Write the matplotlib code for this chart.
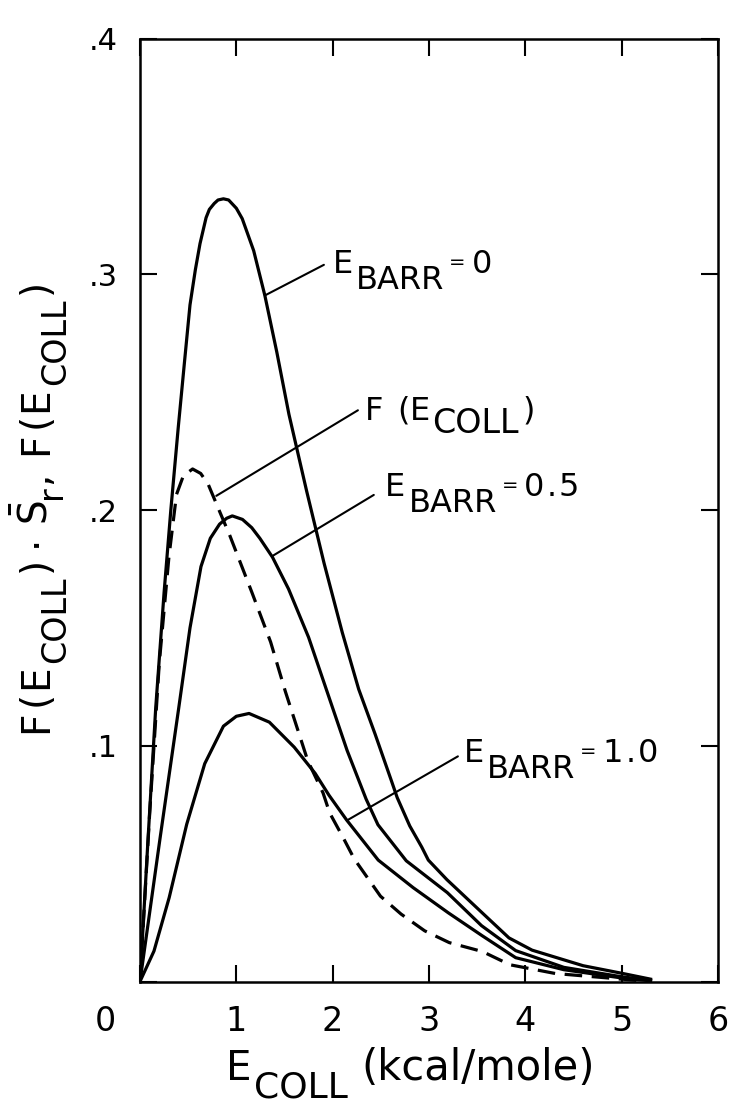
import matplotlib
matplotlib.use("Agg")
import matplotlib.pyplot as plt
from matplotlib.transforms import IdentityTransform

# curves (E_COLL in kcal/mole)
e0_x = [0, 0.08, 0.163, 0.25, 0.32, 0.397, 0.46, 0.519, 0.575, 0.623, 0.686, 0.72, 0.77, 0.81,
        0.866, 0.92, 1.0, 1.061, 1.18, 1.296, 1.42, 1.546, 1.73, 1.911, 2.10, 2.27, 2.44, 2.611,
        2.67, 2.80, 2.925, 2.993, 3.186, 3.54, 3.83, 4.07, 4.60, 5.0, 5.30]
e0_y = [0, 0.058, 0.116, 0.165, 0.200, 0.235, 0.262, 0.287, 0.302, 0.313, 0.324, 0.3275, 0.330, 0.3315,
        0.332, 0.3315, 0.328, 0.3236, 0.310, 0.291, 0.267, 0.2406, 0.208, 0.1774, 0.148, 0.124, 0.105, 0.085,
        0.078, 0.066, 0.057, 0.0515, 0.0432, 0.0296, 0.0185, 0.0133, 0.0067, 0.0035, 0.0010]

e05_x = [0, 0.209, 0.402, 0.519, 0.633, 0.73, 0.826, 0.9, 0.958, 1.064, 1.16, 1.244, 1.375, 1.542,
         1.75, 1.95, 2.15, 2.347, 2.47, 2.764, 3.19, 3.545, 3.90, 4.4, 5.0, 5.3]
e05_y = [0, 0.061, 0.116, 0.150, 0.176, 0.188, 0.194, 0.1965, 0.1975, 0.1960, 0.1925, 0.1880, 0.1800, 0.1665,
         0.146, 0.122, 0.098, 0.0774, 0.0665, 0.0512, 0.0377, 0.0237, 0.0131, 0.006, 0.002, 0.0005]

e1_x = [0, 0.145, 0.303, 0.485, 0.672, 0.866, 1.0, 1.132, 1.343, 1.601, 1.818, 1.962, 2.145,
        2.473, 2.836, 3.198, 3.549, 3.90, 4.4, 5.0, 5.3]
e1_y = [0, 0.0129, 0.0356, 0.0667, 0.0924, 0.1083, 0.1125, 0.1137, 0.110, 0.0994, 0.0883, 0.0790, 0.0685,
        0.0515, 0.0398, 0.0292, 0.0195, 0.0101, 0.005, 0.0015, 0.0003]

f_x = [0, 0.10, 0.20, 0.30, 0.379, 0.45, 0.546, 0.63, 0.707, 0.82, 0.934, 1.162, 1.356, 1.509,
       1.741, 1.90, 1.969, 2.109, 2.224, 2.496, 2.71, 2.955, 3.21, 3.555, 3.84, 4.31, 5.0, 5.3]
f_y = [0, 0.071, 0.135, 0.180, 0.2066, 0.2145, 0.2174, 0.2155, 0.211, 0.200, 0.189, 0.165, 0.144, 0.123,
       0.0937, 0.080, 0.0715, 0.061, 0.052, 0.0362, 0.0286, 0.0215, 0.0165, 0.0127, 0.0071, 0.0034, 0.001, 0.0]

x_ticks = [0, 1, 2, 3, 4, 5, 6]
x_labels = ["", "1", "2", "3", "4", "5", "6"]
y_ticks = [0, 0.1, 0.2, 0.3, 0.4]
y_labels = ["", ".1", ".2", ".3", ".4"]

W, H = 736, 1103
fig = plt.figure(figsize=(W / 100, H / 100), dpi=100)
ax = fig.add_axes([140 / W, 1 - 981.5 / H, 578 / W, 943 / H])

lw = 2.3
ax.plot(e0_x, e0_y, color="k", lw=lw, solid_joinstyle="round")
ax.plot(e05_x, e05_y, color="k", lw=lw, solid_joinstyle="round")
ax.plot(e1_x, e1_y, color="k", lw=lw, solid_joinstyle="round")
ax.plot(f_x, f_y, color="k", lw=lw, dashes=(5.5, 3))

ax.set_xlim(0, 6)
ax.set_ylim(0, 0.4)
ax.set_xticks(x_ticks)
ax.set_xticklabels(x_labels)
ax.set_yticks(y_ticks)
ax.set_yticklabels(y_labels)
ax.tick_params(direction="in", length=12, width=1.5, top=True, right=True)
ax.tick_params(axis="x", pad=17, labelsize=24)
ax.tick_params(axis="y", pad=16, labelsize=22)
for s in ax.spines.values():
    s.set_linewidth(1.8)

# the shared "0" in the corner sits left of the axis
ax.annotate("0", xy=(-0.36, 0), xytext=(0, -17), textcoords="offset points",
            ha="center", va="top", fontsize=24, annotation_clip=False)

renderer = fig.canvas.get_renderer()


def rich(xy, pieces, rot=0, data=True):
    # draw text pieces one after another, with lowered / raised parts
    if data:
        x0, y0 = ax.transData.transform(xy)
    else:
        x0, y0 = xy[0], H - xy[1]
    pos = 0.0
    for s, size, dy, gap in pieces:
        if rot == 0:
            x, y = x0 + pos, y0 + dy
        else:
            x, y = x0 - dy, y0 + pos
        t = fig.text(x, y, s, fontsize=size, transform=IdentityTransform(), rotation=rot,
                     rotation_mode="anchor", ha="left", va="baseline")
        bb = t.get_window_extent(renderer)
        pos += (bb.width if rot == 0 else bb.height) + gap


def barr(value):
    parts = [("E", 23, 0, 3), ("BARR", 23, -16, 5), ("=", 14, 5, 6)]
    for ch in value:
        parts.append((ch, 23, 0, 2))
    return parts


# leader lines
leaders = [((1.296, 0.291), (1.909, 0.304)),
           ((0.792, 0.206), (2.262, 0.2423)),
           ((1.375, 0.1805), (2.427, 0.2064)),
           ((2.156, 0.0685), (3.30, 0.0955))]
for p, q in leaders:
    ax.annotate("", xy=p, xytext=q, arrowprops=dict(arrowstyle="-", lw=1.5, color="k",
                                                    shrinkA=0, shrinkB=0))

rich((2.00, 0.3005), barr("0"))
rich((2.33, 0.2382), [("F", 23, 0, 14), ("(", 23, 0, 1), ("E", 23, 0, 2),
                      ("COLL", 24, -13, 3), (")", 23, 0, 0)])
rich((2.545, 0.2058), barr("0.5"))
rich((3.36, 0.0931), barr("1.0"))

# axis titles
rich((226, 1080), [("E", 29, 0, 2), ("COLL", 26, -18, 14), ("(kcal/mole)", 30, 0, 0)], data=False)
rich((47, 733), [("F", 28, 0, 5), ("(", 28, 0, 1), ("E", 28, 0, 2), ("COLL", 24, -18, 4),
                 (")", 28, 0, 10), ("\u00b7", 28, 0, 10), (r"$\bar{\mathrm{S}}$", 28, 0, 1),
                 ("r", 24, -14, 2), (",", 28, 0, 16), ("F", 28, 0, 5), ("(", 28, 0, 1),
                 ("E", 28, 0, 2), ("COLL", 24, -18, 4), (")", 28, 0, 0)], rot=90, data=False)

fig.savefig("out.png", dpi=100)
